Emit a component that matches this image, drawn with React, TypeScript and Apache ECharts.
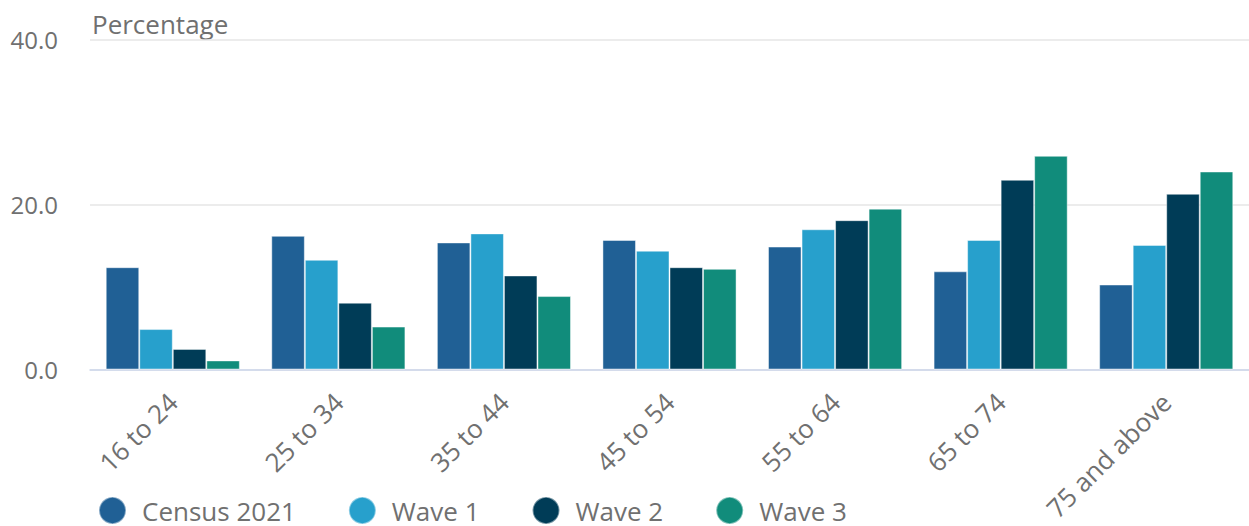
import React, { useEffect, useRef } from "react";
import * as echarts from "echarts";

// Age bands along the x axis
const ageBands = ["16 to 24", "25 to 34", "35 to 44", "45 to 54", "55 to 64", "65 to 74", "75 and above"];

// Percentage of respondents in each age band
const census2021 = [12.4, 16.2, 15.4, 15.7, 14.9, 11.9, 10.3];
const wave1 = [4.9, 13.3, 16.5, 14.4, 17.0, 15.7, 15.1];
const wave2 = [2.5, 8.1, 11.4, 12.4, 18.1, 23.0, 21.3];
const wave3 = [1.1, 5.2, 8.9, 12.2, 19.5, 25.9, 24.0];

const seriesNames = ["Census 2021", "Wave 1", "Wave 2", "Wave 3"];
const seriesColors = ["#206095", "#27a0cc", "#003c57", "#118c7b"];

const FONT = "'Open Sans', 'Noto Sans', sans-serif";
const TEXT = "#707070";

export default function App() {
  const ref = useRef<HTMLDivElement>(null);

  useEffect(() => {
    document.body.style.margin = "0";
    if (!ref.current) return;
    const chart = echarts.init(ref.current, undefined, { renderer: "svg" });
    const values = [census2021, wave1, wave2, wave3];

    chart.setOption({
      animation: false,
      textStyle: { fontFamily: FONT },
      graphic: [
        {
          type: "text",
          left: 92,
          top: 11,
          style: { text: "Percentage", fontSize: 26, fill: TEXT, fontFamily: FONT },
        },
      ],
      legend: {
        left: 98,
        top: 496,
        padding: 0,
        icon: "circle",
        itemWidth: 27,
        itemHeight: 27,
        itemGap: 52,
        data: seriesNames,
        textStyle: { fontSize: 26, color: TEXT, fontFamily: FONT, padding: [0, 0, 0, 11] },
      },
      grid: { left: 90, top: 39.5, width: 1163, height: 330, containLabel: false },
      xAxis: {
        type: "category",
        data: ageBands,
        axisLine: { lineStyle: { color: "#ccd6eb", width: 1.5 } },
        axisTick: { length: 21, lineStyle: { color: "#ccd6eb", width: 1.5 } },
        axisLabel: { rotate: 45, margin: 28, fontSize: 26, color: TEXT, fontFamily: FONT, interval: 0 },
      },
      yAxis: {
        type: "value",
        min: 0,
        max: 40,
        interval: 20,
        axisLine: { show: false },
        axisTick: { show: false },
        splitLine: { lineStyle: { color: "#e6e6e6", width: 1.5 } },
        axisLabel: {
          margin: 32,
          fontSize: 24,
          color: TEXT,
          fontFamily: FONT,
          padding: [10, 0, 0, 0],
          formatter: (v: number) => v.toFixed(1),
        },
      },
      series: seriesNames.map((name, i) => ({
        name,
        type: "bar",
        data: values[i],
        barGap: "0%",
        barCategoryGap: "19%",
        itemStyle: { color: seriesColors[i], borderColor: "rgba(255,255,255,0.45)", borderWidth: 1 },
      })),
    });

    return () => chart.dispose();
  }, []);

  return <div ref={ref} style={{ width: 1249, height: 526 }} />;
}
